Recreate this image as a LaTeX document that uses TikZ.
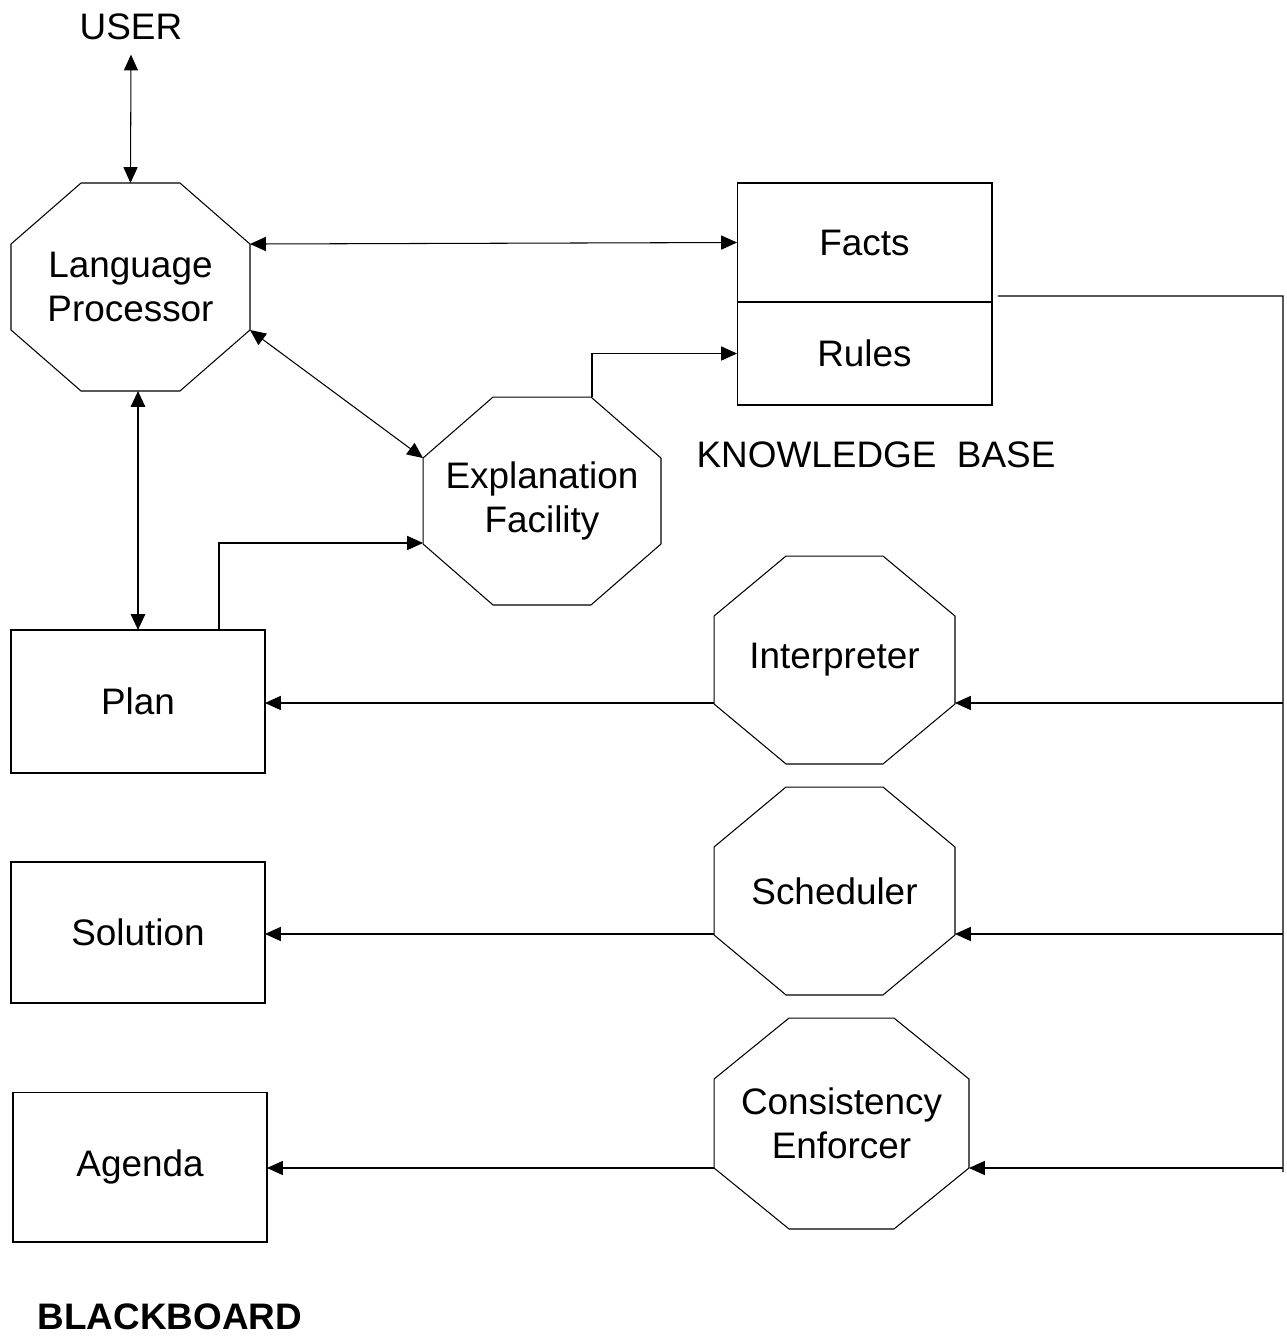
\documentclass[tikz,border=0pt]{standalone}
\usepackage{fontspec}
\setmainfont{Liberation Sans}
\usetikzlibrary{arrows.meta,calc,positioning}

% octagon outline round a named node: node, x cut, y cut
\newcommand{\octframe}[3]{%
  \draw ($(#1.north west)+(#2,0)$) -- ($(#1.north east)+(-#2,0)$)
     -- ($(#1.north east)+(0,#3)$) -- ($(#1.south east)+(0,-#3)$)
     -- ($(#1.south east)+(-#2,0)$) -- ($(#1.south west)+(#2,0)$)
     -- ($(#1.south west)+(0,-#3)$) -- ($(#1.north west)+(0,#3)$) -- cycle;}

\begin{document}
\begin{tikzpicture}[
    x=0.02cm, y=-0.02cm,
    font=\fontsize{21}{25}\selectfont,
    line width=0.6pt,
    octo/.style={inner sep=0pt, outer sep=0pt, align=center,
                 minimum width=4.8cm, minimum height=4.16cm},
    box/.style={draw, inner sep=0pt, outer sep=0pt, align=center,
                minimum width=5.08cm},
    arrow/.style={-{Triangle[length=9pt,width=8pt]}},
    dblarrow/.style={{Triangle[length=9pt,width=8pt]}-{Triangle[length=9pt,width=8pt]}}
]
\useasboundingbox (0,0) rectangle (1286,1336);

% user and language processor
\node[inner ysep=8pt] (user) at (131,27) {USER};
\node[octo, minimum width=4.78cm] (lp) at (130.5,287) {Language\\Processor};
\octframe{lp}{70}{61}

% knowledge base
\node[box, minimum width=5.1cm, minimum height=2.38cm] (facts) at (864.5,242.5) {Facts};
\node[box, minimum width=5.1cm, minimum height=2.06cm] (rules) at (864.5,353.5) {Rules};
\node (kb) at (876,455) {KNOWLEDGE\ \ BASE};

% explanation facility
\node[octo, minimum width=4.76cm] (ef) at (542,501) {Explanation\\Facility};
\octframe{ef}{70}{61}

% control octagons
\node[octo, minimum width=4.82cm] (interp) at (834.5,660) {Interpreter};
\octframe{interp}{72}{60}
\node[octo, minimum width=4.82cm] (sched) at (834.5,891) {Scheduler};
\octframe{sched}{72}{60}
\node[octo, minimum width=5.1cm, minimum height=4.22cm] (ce) at (841.5,1123.5) {Consistency\\Enforcer};
\octframe{ce}{75}{61}

% blackboard
\node[box, minimum height=2.86cm] (plan) at (138,701.5) {Plan};
\node[box, minimum height=2.82cm] (sol) at (138,932.5) {Solution};
\node[box, minimum height=3cm] (agenda) at (140,1167) {Agenda};
\node[font=\fontsize{21}{25}\selectfont\bfseries] (bb) at (170,1317) {BLACKBOARD};

% connectors
\draw[dblarrow] (user.south) -- (lp.north);
\draw[dblarrow] ($(lp.north east)+(0,61)$) -- (facts.west);
\draw[dblarrow] ($(lp.south east)+(0,-61)$) -- ($(ef.north west)+(0,61)$);
\draw[arrow] ($(ef.north east)+(-69,0)$) |- (rules.west);
\draw[arrow] ($(plan.north)+(81,0)$) |- ($(ef.south west)+(0,-62)$);
\draw[dblarrow, line width=1.4pt] (plan.north |- lp.south) -- (plan.north);

% bus from the knowledge base
\coordinate (bus) at (1283,296);
\coordinate (busend) at (1283,1172);
\draw ($(facts.south east)+(6,-6)$) -- (bus) -- (busend);

\foreach \n/\b in {interp/plan, sched/sol, ce/agenda}{
  \coordinate (r) at ($(\n.south east)+(0,-61)$);
  \coordinate (l) at ($(\n.south west)+(0,-61)$);
  \draw[arrow] (bus |- r) -- (r);
  \draw[arrow] (l) -- (\b.east |- l);
}
\end{tikzpicture}
\end{document}
